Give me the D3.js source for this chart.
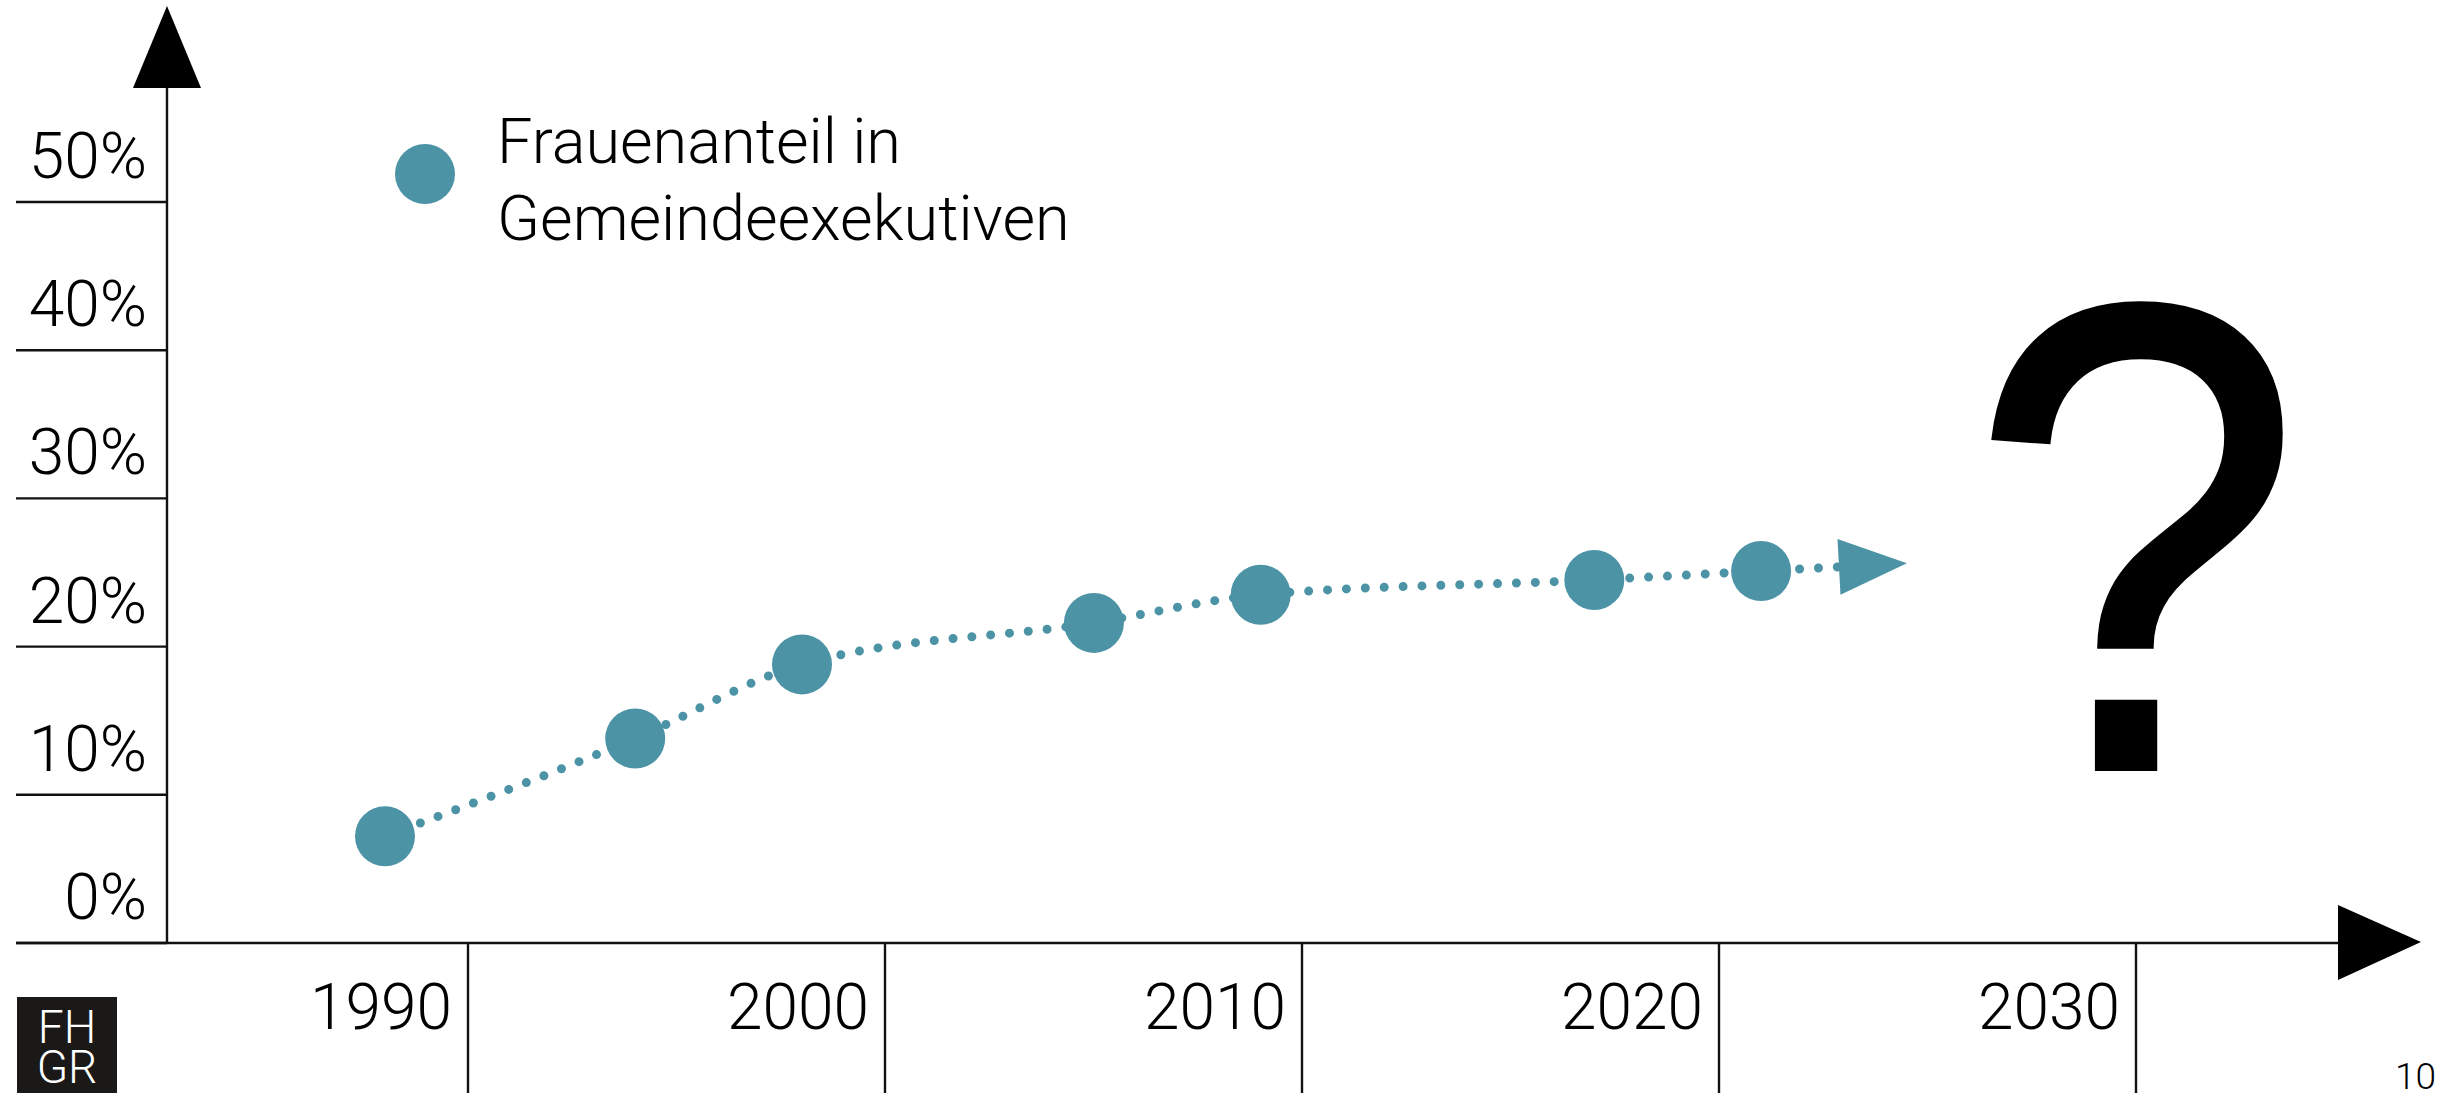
<!DOCTYPE html>
<html>
<head>
<meta charset="utf-8">
<script src="https://cdn.jsdelivr.net/npm/d3@7"></script>
<style>
  html, body { margin: 0; padding: 0; background: #fff; overflow: hidden; }
  text { font-family: Roboto, "Liberation Sans", sans-serif; font-weight: 300; }
</style>
</head>
<body>
<div id="chart"></div>
<script>
const TEAL = "#4c93a6";
const INK = "#111";

// Frauenanteil in Gemeindeexekutiven (survey years, share in %)
const years = [1990, 1996, 2000, 2007, 2011, 2019, 2023];
const shares = [7.2, 13.8, 18.8, 21.6, 23.5, 24.5, 25.1];

const yTicks = [0, 10, 20, 30, 40, 50];
const xTicks = [1990, 2000, 2010, 2020, 2030];

const legendLines = ["Frauenanteil in", "Gemeindeexekutiven"];

const W = 2450, H = 1093;

let svg = d3.select("#chart").append("svg")
    .attr("width", W)
    .attr("height", H);

let x = d3.scaleLinear().domain([1990, 2030]).range([385, 2053]);
let y = d3.scaleLinear().domain([0, 50]).range([943, 202]);

let axisX = 167;     // vertical axis position
let baseY = y(0);    // horizontal axis position

/*
 * Axes: hand drawn in the slide style, with arrow heads.
 */
let axes = svg.append("g")
    .attr("stroke", INK)
    .attr("stroke-width", 2.4);

axes.append("line")
    .attr("x1", axisX).attr("x2", axisX)
    .attr("y1", baseY).attr("y2", 88);
svg.append("path")
    .attr("d", `M${axisX - 34},88L${axisX + 34},88L${axisX},6Z`)
    .attr("fill", "#000");

axes.append("line")
    .attr("x1", 16).attr("x2", 2338)
    .attr("y1", baseY).attr("y2", baseY);
svg.append("path")
    .attr("d", `M2338,${baseY - 38}L2338,${baseY + 37}L2421,${baseY - 1}Z`)
    .attr("fill", "#000");

// y ticks run to the left of the axis, label sits above each line
axes.selectAll(".ytick")
    .data(yTicks)
    .join("line")
    .attr("class", "ytick")
    .attr("x1", 16).attr("x2", axisX)
    .attr("y1", d => y(d)).attr("y2", d => y(d));

svg.selectAll(".ylab")
    .data(yTicks)
    .join("text")
    .attr("class", "ylab")
    .attr("x", 147)
    .attr("y", d => y(d) - 24)
    .attr("text-anchor", "end")
    .style("font-size", "64px")
    .attr("fill", "#000")
    .text(d => d + "%");

// x: decade label, divider line to its right
axes.selectAll(".xtick")
    .data(xTicks)
    .join("line")
    .attr("class", "xtick")
    .attr("x1", d => x(d) + 83).attr("x2", d => x(d) + 83)
    .attr("y1", baseY).attr("y2", H);

svg.selectAll(".xlab")
    .data(xTicks)
    .join("text")
    .attr("class", "xlab")
    .attr("x", d => x(d) - 4)
    .attr("y", 1029)
    .attr("text-anchor", "middle")
    .style("font-size", "64px")
    .attr("fill", "#000")
    .text(d => d);

/*
 * Dotted trend line through the points, continued a bit with an arrow.
 */
let pts = years.map((yr, i) => [x(yr), y(shares[i])]);
let [lx, ly] = pts[pts.length - 1];
let [px, py] = pts[pts.length - 2];
let len = Math.hypot(lx - px, ly - py);
let ux = (lx - px) / len, uy = (ly - py) / len;
let ext = [lx + ux * 78, ly + uy * 78];

let line = d3.line().curve(d3.curveMonotoneX);

svg.append("path")
    .attr("d", line(pts.concat([ext])))
    .attr("fill", "none")
    .attr("stroke", TEAL)
    .attr("stroke-width", 9)
    .attr("stroke-linecap", "round")
    .attr("stroke-dasharray", "0 18.9");

let tip = [ext[0] + ux * 68, ext[1] + uy * 68];
svg.append("path")
    .attr("d", `M${ext[0] + uy * 28},${ext[1] - ux * 28}` +
               `L${ext[0] - uy * 28},${ext[1] + ux * 28}` +
               `L${tip[0]},${tip[1]}Z`)
    .attr("fill", TEAL);

svg.selectAll(".pt")
    .data(pts)
    .join("circle")
    .attr("class", "pt")
    .attr("cx", d => d[0])
    .attr("cy", d => d[1])
    .attr("r", 30)
    .attr("fill", TEAL);

// legend
svg.append("circle")
    .attr("cx", 425).attr("cy", 174).attr("r", 30)
    .attr("fill", TEAL);
svg.selectAll(".leg")
    .data(legendLines)
    .join("text")
    .attr("class", "leg")
    .attr("x", 497)
    .attr("y", (d, i) => 163 + i * 77)
    .style("font-size", "63px")
    .attr("fill", "#000")
    .text(d => d);

// the big question mark (regular weight, thickened a little, a bit narrower)
svg.append("text")
    .attr("transform", "translate(2136,768) scale(0.9,1)")
    .attr("text-anchor", "middle")
    .style("font-family", "'Liberation Sans', Arial, sans-serif")
    .style("font-weight", "400")
    .style("font-size", "664px")
    .attr("fill", "#000")
    .attr("stroke", "#000")
    .attr("stroke-width", 6)
    .attr("stroke-linejoin", "miter")
    .text("?");

// FHGR logo, one text block in two lines
let logo = svg.append("g");
logo.append("rect")
    .attr("x", 17).attr("y", 997)
    .attr("width", 100).attr("height", 110)
    .attr("fill", "#1a1917");
let logoText = logo.append("text")
    .attr("y", 1043)
    .attr("text-anchor", "middle")
    .style("font-size", "46px")
    .attr("fill", "#fff");
logoText.selectAll("tspan")
    .data(["FH", "GR"])
    .join("tspan")
    .attr("x", 67)
    .attr("dy", (d, i) => i ? 40 : 0)
    .text(d => d);

// page number
svg.append("text")
    .attr("x", 2436)
    .attr("y", 1089)
    .attr("text-anchor", "end")
    .style("font-size", "37px")
    .attr("fill", "#000")
    .text("10");
</script>
</body>
</html>
